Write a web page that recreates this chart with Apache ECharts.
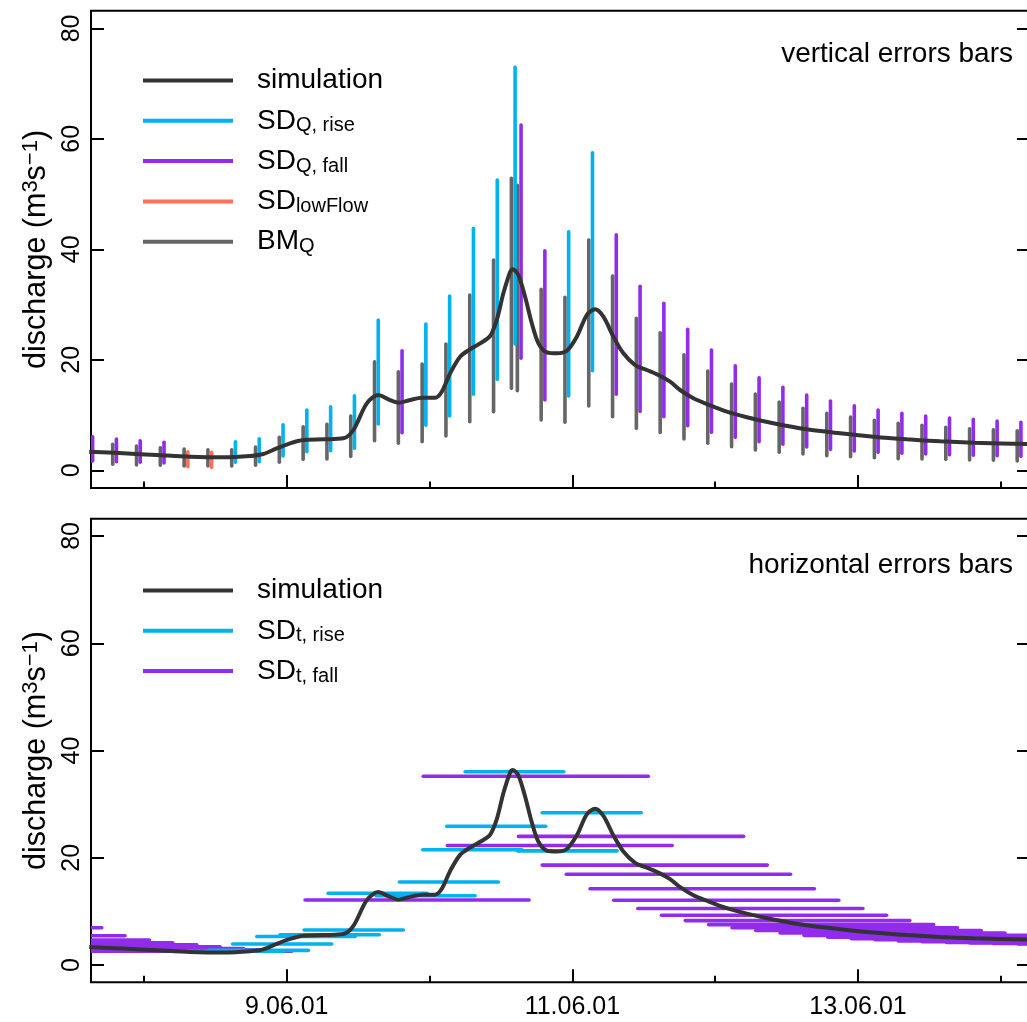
<!DOCTYPE html>
<html>
<head>
<meta charset="utf-8">
<script src="https://cdn.jsdelivr.net/npm/echarts@6/dist/echarts.min.js"></script>
<style>
html,body{margin:0;padding:0;overflow:hidden;background:#fff;}
#c{width:1040px;height:1022px;}
</style>
</head>
<body>
<div id="c"></div>
<script>
// ---------------- data (time in hours relative to 9.06.01 00:00) ----------------
const xMajor = [0, 48, 96];
const xMajorLabels = ['9.06.01', '11.06.01', '13.06.01'];
const xMinor = [-24, 24, 72, 120];
const yTicks = [0, 20, 40, 60, 80];

// simulated discharge
const simT = [-33.2, -27.46, -21.85, -16.25, -10.66, -6.17, -3.93, -1.68, 0.55, 2.79, 6.15, 9.51, 11.19, 13.45,
  15.39, 17.08, 18.76, 20.72, 22.69, 24.92, 26.05, 27.45, 29.13, 30.81, 32.49, 34.17, 35.29, 36.4, 37.55, 37.98,
  38.92, 40.05, 41.18, 42.29, 43.7, 45.38, 47.06, 48.74, 50.42, 51.82, 53.21, 54.89, 56.57, 58.54, 60.5, 62.45,
  64.42, 66.1, 68.34, 70.59, 73.95, 77.31, 81.78, 87.39, 92.99, 98.59, 104.2, 109.8, 115.4, 124.4, 125.5];
const simQ = [3.38, 3.08, 2.77, 2.46, 2.35, 2.59, 2.95, 3.98, 4.89, 5.49, 5.61, 5.79, 7.3, 12.13,
  13.63, 12.85, 12.24, 12.73, 13.14, 13.14, 14.23, 17.56, 20.56, 21.9, 22.99, 24.31, 27.21, 32.04, 35.95, 36.39,
  35.35, 31.43, 26.61, 22.99, 21.36, 21.18, 21.65, 24.19, 28.11, 29.15, 27.81, 24.19, 21.18, 19.06, 18.16, 17.25,
  16.04, 14.54, 13.03, 12.0, 10.61, 9.6, 8.51, 7.42, 6.7, 6.08, 5.61, 5.25, 5.0, 4.76, 4.74];

// vertical error bars (top panel): point times, benchmark range, SD range and kind
const tPt = [-33.25, -29.25, -25.25, -21.25, -17.25, -13.25, -9.25, -5.25, -1.25, 2.75, 6.75, 10.75, 14.75,
  18.75, 22.75, 26.75, 30.75, 34.75, 37.75, 38.75, 42.75, 46.75, 50.75, 54.75, 58.75, 62.75, 66.75, 70.75,
  74.75, 78.75, 82.75, 86.75, 90.75, 94.75, 98.75, 102.75, 106.75, 110.75, 114.75, 118.75, 122.75];
const bmLo = [null, 1.09, 0.96, 0.91, 0.78, 0.78, 0.78, 0.91, 1.45, 1.99, 2.05, 2.53, 5.36,
  4.89, 5.18, 6.21, 8.8, 10.61, 14.84, 14.41, 9.11, 8.69, 11.64, 9.7, 7.6, 6.84, 5.67, 4.89,
  4.27, 3.67, 3.26, 2.95, 2.64, 2.46, 2.28, 2.1, 2.05, 1.99, 1.86, 1.81, 1.68];
const bmHi = [null, 4.71, 4.4, 4.09, 3.86, 3.73, 3.73, 4.22, 5.97, 7.89, 8.33, 9.83, 19.66,
  17.85, 19.24, 22.86, 31.73, 38.07, 52.86, 51.59, 32.77, 31.32, 41.69, 35.17, 27.52, 24.91, 20.93, 17.98,
  15.62, 13.81, 12.36, 11.22, 10.32, 9.65, 9.05, 8.51, 8.15, 7.78, 7.53, 7.35, 7.17];
const sdLo = [1.68, 1.56, 1.45, 1.32, 0.65, 0.54, 1.45, 1.56, 2.59, 3.37, 3.55, 3.98, 8.38,
  6.81, 8.15, 9.83, 13.76, 16.47, 22.86, 20.28, 12.73, 13.45, 18.03, 13.76, 10.67, 9.7, 8.07, 6.88,
  5.97, 5.18, 4.71, 4.22, 3.8, 3.49, 3.26, 3.08, 2.95, 2.82, 2.72, 2.64, 2.53];
const sdHi = [6.08, 5.67, 5.36, 5.07, 3.37, 3.26, 5.18, 5.72, 8.25, 10.92, 11.51, 13.5, 27.2,
  21.65, 26.48, 31.55, 43.81, 52.55, 72.95, 62.51, 39.75, 43.19, 57.49, 42.65, 33.3, 30.23, 25.53, 21.78,
  18.94, 16.76, 15.03, 13.63, 12.55, 11.69, 10.92, 10.32, 9.83, 9.47, 9.23, 8.92, 8.69];
const sdKind = ['fall', 'fall', 'fall', 'fall', 'low', 'low', 'rise', 'rise', 'rise', 'rise', 'rise', 'rise', 'rise',
  'fall', 'rise', 'rise', 'rise', 'rise', 'rise', 'fall', 'fall', 'rise', 'rise', 'fall', 'fall', 'fall', 'fall', 'fall',
  'fall', 'fall', 'fall', 'fall', 'fall', 'fall', 'fall', 'fall', 'fall', 'fall', 'fall', 'fall', 'fall'];

// horizontal error bars (bottom panel): level, start time, end time
const riseY  = [2.6, 2.75, 3.93, 5.35, 5.67, 6.54, 13.4, 12.94, 15.5, 21.5, 25.9, 36.05, 21.3, 28.4];
const riseT0 = [-16.8, -13.06, -9.08, -5.04, -1.13, 2.91, 6.94, 15.01, 18.92, 22.86, 26.89, 29.97, 38.76, 42.91];
const riseT1 = [-0.57, 3.63, 7.56, 11.48, 15.56, 19.6, 23.58, 31.65, 35.56, 39.5, 43.53, 46.55, 55.51, 59.58];

const fallY  = [6.97, 5.48, 4.68, 4.18, 3.8, 3.4, 3.1, 2.85, 2.6, 12.13, 35.2, 22.3, 24.0, 18.65, 16.95, 14.25,
  12.1, 10.55, 9.3, 8.3, 7.55, 6.98, 6.45, 6.0, 5.55, 5.2, 4.95, 4.72, 4.52, 4.35, 4.22, 4.12, 4.04, 3.96];
const fallT0 = [-68.7, -64.8, -60.7, -56.8, -52.8, -48.9, -44.9, -40.8, -36.8, 3.08, 22.94, 26.99, 38.94, 42.92,
  46.97, 50.97, 54.94, 58.99, 62.97, 66.97, 70.89, 74.82, 78.81, 82.91, 86.91, 90.92, 94.84, 98.87, 102.8, 106.8,
  110.9, 114.8, 118.7, 122.9];
const fallT1 = [-31.09, -27.18, -23.09, -19.16, -15.13, -11.21, -7.29, -3.19, 0.84, 40.72, 60.76, 64.76, 76.76,
  80.76, 84.67, 88.67, 92.77, 96.82, 100.8, 104.7, 108.7, 112.7, 116.7, 120.7, 124.6, 128.6, 132.5, 136.5, 140.5,
  144.5, 148.6, 152.5, 156.4, 160.6];

// ---------------- chart ----------------
const FONT = '"Liberation Sans", Arial, Helvetica, sans-serif';
const C_SIM = '#333333', C_RISE = '#00B2EE', C_FALL = '#912CEE', C_LOW = '#FF7256', C_BM = '#666666';
const X_MIN = -32.9, X_MAX = 124.9, Y_MIN = -3.2, Y_MAX = 83.2;
const GL = 91, GW = 939;
const G0 = {top: 10.7, height: 477.3};
const G1 = {top: 518.8, height: 463.5};
const BAR_W = 3.6, DODGE = 3.7;

function vbar(color, dx) {
  return function (params, api) {
    const x = api.value(0), lo = api.value(1), hi = api.value(2);
    const a = api.coord([x, lo]), b = api.coord([x, hi]);
    return {type: 'line', shape: {x1: a[0] + dx, y1: a[1], x2: b[0] + dx, y2: b[1]},
      style: {stroke: color, lineWidth: BAR_W, lineCap: 'round'}};
  };
}
function hbar(color) {
  return function (params, api) {
    const y = api.value(0), t0 = api.value(1), t1 = api.value(2);
    const a = api.coord([t0, y]), b = api.coord([t1, y]);
    return {type: 'line', shape: {x1: a[0], y1: a[1], x2: b[0], y2: b[1]},
      style: {stroke: color, lineWidth: BAR_W, lineCap: 'round'}};
  };
}

const bmData = [], riseV = [], fallV = [], lowV = [];
tPt.forEach((t, i) => {
  if (bmLo[i] != null) bmData.push([t, bmLo[i], bmHi[i]]);
  const d = [t, sdLo[i], sdHi[i]];
  if (sdKind[i] === 'rise') riseV.push(d);
  else if (sdKind[i] === 'fall') fallV.push(d);
  else lowV.push(d);
});
const simData = simT.map((t, i) => [t, simQ[i]]);
const riseH = riseY.map((y, i) => [y, riseT0[i], riseT1[i]]);
const fallH = fallY.map((y, i) => [y, fallT0[i], fallT1[i]]);

const TICK_STYLE = {color: '#000', width: 2};
function xAxes(gi, withLabels) {
  const base = {gridIndex: gi, type: 'value', position: 'bottom', min: X_MIN, max: X_MAX,
    axisLine: {show: false, onZero: false}, splitLine: {show: false}};
  return [
    Object.assign({}, base, {
      axisTick: {show: true, inside: true, length: 13, customValues: xMajor, lineStyle: TICK_STYLE},
      axisLabel: {show: withLabels, customValues: xMajor, margin: 12, color: '#000', fontSize: 25, lineHeight: 25,
        fontFamily: FONT, formatter: v => xMajorLabels[xMajor.indexOf(v)]}
    }),
    Object.assign({}, base, {
      axisTick: {show: true, inside: true, length: 6.5, customValues: xMinor, lineStyle: TICK_STYLE},
      axisLabel: {show: false}
    })
  ];
}
function yAxes(gi) {
  const base = {gridIndex: gi, type: 'value', min: Y_MIN, max: Y_MAX,
    axisLine: {show: false, onZero: false}, splitLine: {show: false}};
  return [
    Object.assign({}, base, {
      position: 'left',
      axisTick: {show: true, inside: true, length: 13, customValues: yTicks, lineStyle: TICK_STYLE},
      axisLabel: {show: true, customValues: yTicks, rotate: 90, margin: 6, color: '#000', fontSize: 25, lineHeight: 25,
        fontFamily: FONT}
    }),
    Object.assign({}, base, {
      position: 'right',
      axisTick: {show: true, inside: true, length: 13, customValues: yTicks, lineStyle: TICK_STYLE},
      axisLabel: {show: false}
    })
  ];
}

const ICON = 'path://M0,0L90,0L90,4L0,4Z';
const legendText = {
  sim_top: '{m|simulation}',
  sdq_rise: '{m|SD}{s|Q, rise}',
  sdq_fall: '{m|SD}{s|Q, fall}',
  sd_low: '{m|SD}{s|lowFlow}',
  bm_q: '{m|BM}{s|Q}',
  sim_bot: '{m|simulation}',
  sdt_rise: '{m|SD}{s|t, rise}',
  sdt_fall: '{m|SD}{s|t, fall}'
};
const legendRich = {
  m: {fontSize: 28, lineHeight: 30, fontFamily: FONT, color: '#000'},
  s: {fontSize: 20, lineHeight: 14, fontFamily: FONT, color: '#000', verticalAlign: 'bottom'}
};
function legend(top, items) {
  return {
    left: 138, top: top, orient: 'vertical', itemWidth: 90, itemHeight: 4, itemGap: 10.3,
    selectedMode: false, icon: ICON,
    data: items.map(it => ({name: it[0], icon: ICON, itemStyle: {color: it[1], borderWidth: 0}})),
    formatter: n => legendText[n],
    textStyle: {fontSize: 28, lineHeight: 30, fontFamily: FONT, color: '#000', padding: [0, 0, 0, 19], rich: legendRich}
  };
}

const titleRich = {
  n: {fontSize: 30.5, lineHeight: 34, fontFamily: FONT, fill: '#000', color: '#000'},
  p: {fontSize: 22, lineHeight: 17, fontFamily: FONT, fill: '#000', color: '#000', verticalAlign: 'top'}
};
function yTitle(cy) {
  return {type: 'text', x: 37, y: cy, rotation: Math.PI / 2,
    style: {text: '{n|discharge (m}{p|3}{n|s}{p|\u22121}{n|)}', rich: titleRich, font: '30.5px ' + FONT, fill: '#000',
      align: 'center', verticalAlign: 'middle', textAlign: 'center', textVerticalAlign: 'middle'}};
}
function note(txt, y) {
  return {type: 'text', x: 1013, y: y,
    style: {text: txt, font: '28px ' + FONT, fill: '#000', align: 'right', verticalAlign: 'middle',
      textAlign: 'right', textVerticalAlign: 'middle'}};
}

const option = {
  animation: false,
  backgroundColor: '#fff',
  textStyle: {fontFamily: FONT},
  grid: [
    {left: GL, width: GW, top: G0.top, height: G0.height, show: true, borderColor: '#000', borderWidth: 2, backgroundColor: 'transparent'},
    {left: GL, width: GW, top: G1.top, height: G1.height, show: true, borderColor: '#000', borderWidth: 2, backgroundColor: 'transparent'}
  ],
  xAxis: [].concat(xAxes(0, false), xAxes(1, true)),
  yAxis: [].concat(yAxes(0), yAxes(1)),
  legend: [
    legend(60.5, [['sim_top', C_SIM], ['sdq_rise', C_RISE], ['sdq_fall', C_FALL], ['sd_low', C_LOW], ['bm_q', C_BM]]),
    legend(570.5, [['sim_bot', C_SIM], ['sdt_rise', C_RISE], ['sdt_fall', C_FALL]])
  ],
  graphic: [yTitle(249.4), yTitle(750.5), note('vertical errors bars', 54.5), note('horizontal errors bars', 565)],
  series: [
    {name: 'bm_q', type: 'custom', xAxisIndex: 0, yAxisIndex: 0, data: bmData, encode: {x: 0, y: [1, 2]},
      renderItem: vbar(C_BM, 0), itemStyle: {color: C_BM}, clip: true, z: 2},
    {name: 'sdq_rise', type: 'custom', xAxisIndex: 0, yAxisIndex: 0, data: riseV, encode: {x: 0, y: [1, 2]},
      renderItem: vbar(C_RISE, DODGE), itemStyle: {color: C_RISE}, clip: true, z: 3},
    {name: 'sdq_fall', type: 'custom', xAxisIndex: 0, yAxisIndex: 0, data: fallV, encode: {x: 0, y: [1, 2]},
      renderItem: vbar(C_FALL, DODGE), itemStyle: {color: C_FALL}, clip: true, z: 3},
    {name: 'sd_low', type: 'custom', xAxisIndex: 0, yAxisIndex: 0, data: lowV, encode: {x: 0, y: [1, 2]},
      renderItem: vbar(C_LOW, DODGE), itemStyle: {color: C_LOW}, clip: true, z: 3},
    {name: 'sim_top', type: 'line', xAxisIndex: 0, yAxisIndex: 0, data: simData, showSymbol: false, smooth: 0.3,
      lineStyle: {color: C_SIM, width: 4}, itemStyle: {color: C_SIM}, clip: true, z: 5},
    {name: 'sdt_rise', type: 'custom', xAxisIndex: 2, yAxisIndex: 2, data: riseH, encode: {x: [1, 2], y: 0},
      renderItem: hbar(C_RISE), itemStyle: {color: C_RISE}, clip: true, z: 3},
    {name: 'sdt_fall', type: 'custom', xAxisIndex: 2, yAxisIndex: 2, data: fallH, encode: {x: [1, 2], y: 0},
      renderItem: hbar(C_FALL), itemStyle: {color: C_FALL}, clip: true, z: 2},
    {name: 'sim_bot', type: 'line', xAxisIndex: 2, yAxisIndex: 2, data: simData, showSymbol: false, smooth: 0.3,
      lineStyle: {color: C_SIM, width: 4}, itemStyle: {color: C_SIM}, clip: true, z: 5}
  ]
};
const chart = echarts.init(document.getElementById('c'));
chart.setOption(option);
</script>
</body>
</html>
